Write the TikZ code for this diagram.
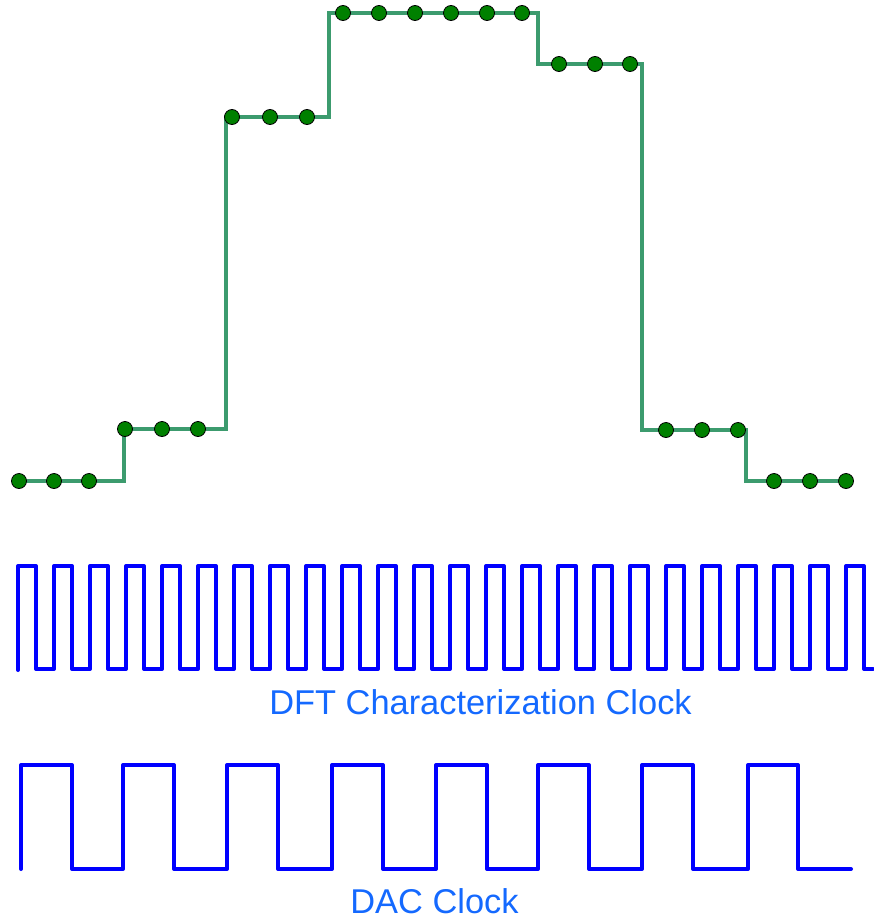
\documentclass[tikz,border=0pt]{standalone}
\usepackage{fontspec}
\setmainfont{Liberation Sans}
\definecolor{stair}{RGB}{60,155,110}
\definecolor{dotg}{RGB}{0,128,0}
\definecolor{clk}{RGB}{0,0,255}
\definecolor{lbl}{RGB}{20,105,255}
\begin{document}
\begin{tikzpicture}[x=1pt,y=-1pt,
  stairline/.style={stair,line width=4pt,line join=miter},
  sample/.style={circle,draw=black,fill=dotg,line width=0.8pt,minimum size=15pt,inner sep=0pt},
  clock/.style={clk,line width=4pt,line join=round,line cap=round},
  clklabel/.style={lbl,anchor=base,inner sep=0pt,font=\fontsize{34.4}{40}\selectfont}]
\useasboundingbox (0,0) rectangle (874,921);
% staircase
\draw[stairline] (19,481) -- (124,481) -- (124,429) -- (226,429) -- (226,117) -- (329,117)
  -- (329,13) -- (538,13) -- (538,64) -- (642,64) -- (642,430) -- (746,430) -- (746,481) -- (846,481);
\foreach \n/\x/\y in {a1/19/481,a2/54/481,a3/89/481,
  b1/125/429,b2/162/429,b3/198/429,
  c1/232/117,c2/270/117,c3/307/117,
  d1/343/13,d2/379/13,d3/415/13,d4/451/13,d5/487/13,d6/522/13,
  e1/559/64,e2/595/64,e3/630/64,
  f1/666/430,f2/702/430,f3/738/430,
  g1/774/481,g2/810/481,g3/846/481}
  \node[sample] (\n) at (\x,\y) {};
% DFT characterization clock
\draw[clock] (18,670) \foreach \k in {0,...,23}{
  -- ({18+36*\k},566) -- ({36+36*\k},566) -- ({36+36*\k},669) -- ({min(54+36*\k,873)},669)};
\node[clklabel] (dftlabel) at (480.5,714) {DFT Characterization Clock};
% DAC clock
\draw[clock] (21,869) -- (21,765) -- (72,765) -- (72,869) -- (123,869) -- (123,765) -- (174,765) -- (174,869)
  -- (227,869) -- (227,765) -- (278,765) -- (278,869) -- (332,869) -- (332,765) -- (383,765) -- (383,869)
  -- (436,869) -- (436,765) -- (487,765) -- (487,869) -- (538,869) -- (538,765) -- (589,765) -- (589,869)
  -- (642,869) -- (642,765) -- (693,765) -- (693,869) -- (748,869) -- (748,765) -- (798,765) -- (798,869)
  -- (851,869);
\node[clklabel] (daclabel) at (434.5,913) {DAC Clock};
\end{tikzpicture}
\end{document}
